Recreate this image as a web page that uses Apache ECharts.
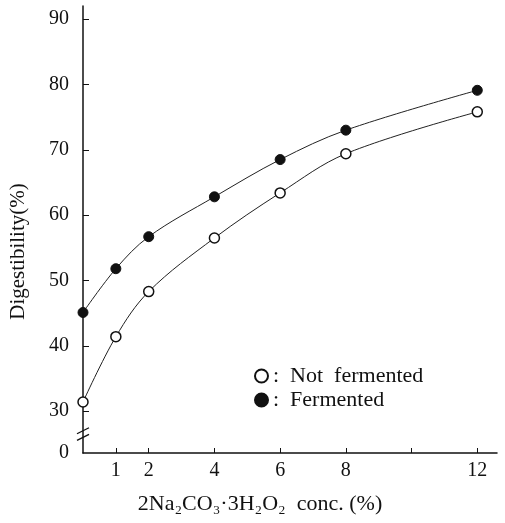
<!DOCTYPE html>
<html lang="en">
<head>
    <meta charset="UTF-8">
    <title>Digestibility</title>
    <style>
        html, body { margin: 0; height: 100%; width: 100%; background: #fff; }
        #main { width: 505px; height: 523px; }
    </style>
</head>
<body>
    <div id="main"></div>
    <script src="https://cdn.jsdelivr.net/npm/echarts@6/dist/echarts.min.js"></script>
    <script>
        // concentration (%) of 2Na2CO3·3H2O2
        var conc = [0, 1, 2, 4, 6, 8, 12];
        var notFermented = [31.4, 41.4, 48.3, 56.5, 63.4, 69.4, 75.8];
        var fermented = [45.1, 51.8, 56.7, 62.8, 68.5, 73.0, 79.1];
        var xTicks = [1, 2, 4, 6, 8, 10, 12];
        var xLabels = [1, 2, 4, 6, 8, 12];
        var yTicks = [30, 40, 50, 60, 70, 80, 90];
        // axis is broken below 30, bottom end is labelled 0
        var yBottom = 23.6;

        var font = '"Liberation Serif", "DejaVu Serif", serif';

        function pairs(ys) {
            return conc.map(function (x, i) { return [x, ys[i]]; });
        }

        var myChart = echarts.init(document.getElementById('main'));
        var option = {
            backgroundColor: '#fff',
            animation: false,
            grid: { left: 83, right: 8, top: 6, bottom: 70 },
            legend: {
                left: 249,
                top: 360,
                orient: 'vertical',
                itemGap: 2,
                itemWidth: 13,
                itemHeight: 13,
                textStyle: { fontFamily: font, fontSize: 22, color: '#111' },
                formatter: function (n) { return ':  ' + n.replace(' ', '  '); },
                data: [
                    { name: 'Not fermented', icon: 'circle' },
                    { name: 'Fermented', icon: 'circle' }
                ]
            },
            xAxis: {
                type: 'value',
                min: 0,
                max: 12.6,
                name: '2Na₂CO₃·3H₂O₂  conc. (%)',
                nameLocation: 'middle',
                nameGap: 40,
                nameTextStyle: { fontFamily: font, fontSize: 22, color: '#111', padding: [0, 60, 0, 0] },
                axisLine: { lineStyle: { color: '#111', width: 1.5 } },
                axisTick: { inside: true, length: 5, customValues: xTicks, lineStyle: { color: '#111' } },
                axisLabel: { customValues: xLabels, margin: 8, fontFamily: font, fontSize: 20, color: '#111' },
                splitLine: { show: false }
            },
            yAxis: {
                type: 'value',
                min: yBottom,
                max: 92,
                name: 'Digestibility(%)',
                nameLocation: 'middle',
                nameGap: 54,
                nameTextStyle: { fontFamily: font, fontSize: 21, color: '#111', padding: [0, 44, 0, 0] },
                axisLine: { lineStyle: { color: '#111', width: 1.5 } },
                axisTick: { inside: true, length: 6, customValues: yTicks, lineStyle: { color: '#111' } },
                axisLabel: {
                    customValues: [yBottom].concat(yTicks),
                    margin: 14,
                    fontFamily: font,
                    fontSize: 20,
                    color: '#111',
                    formatter: function (v) { return v === yBottom ? '0' : String(v); }
                },
                splitLine: { show: false }
            },
            series: [
                {
                    name: 'Not fermented',
                    type: 'line',
                    smooth: 0.35,
                    symbol: 'circle',
                    symbolSize: 10,
                    data: pairs(notFermented),
                    lineStyle: { color: '#222', width: 1 },
                    itemStyle: { color: '#fff', borderColor: '#111', borderWidth: 1.5 }
                },
                {
                    name: 'Fermented',
                    type: 'line',
                    smooth: 0.35,
                    symbol: 'circle',
                    symbolSize: 10,
                    data: pairs(fermented),
                    lineStyle: { color: '#222', width: 1 },
                    itemStyle: { color: '#111', borderColor: '#111', borderWidth: 1 }
                }
            ]
        };
        myChart.setOption(option);

        // break marks on the y axis
        var p1 = myChart.convertToPixel({ gridIndex: 0 }, [0, 27.0]);
        var p2 = myChart.convertToPixel({ gridIndex: 0 }, [0, 26.0]);
        myChart.setOption({
            graphic: [
                { type: 'line', shape: { x1: p1[0] - 6, y1: p1[1] + 3, x2: p1[0] + 6, y2: p1[1] - 3 }, style: { stroke: '#111', lineWidth: 1.3 } },
                { type: 'line', shape: { x1: p2[0] - 6, y1: p2[1] + 3, x2: p2[0] + 6, y2: p2[1] - 3 }, style: { stroke: '#111', lineWidth: 1.3 } }
            ]
        });
    </script>
</body>
</html>
